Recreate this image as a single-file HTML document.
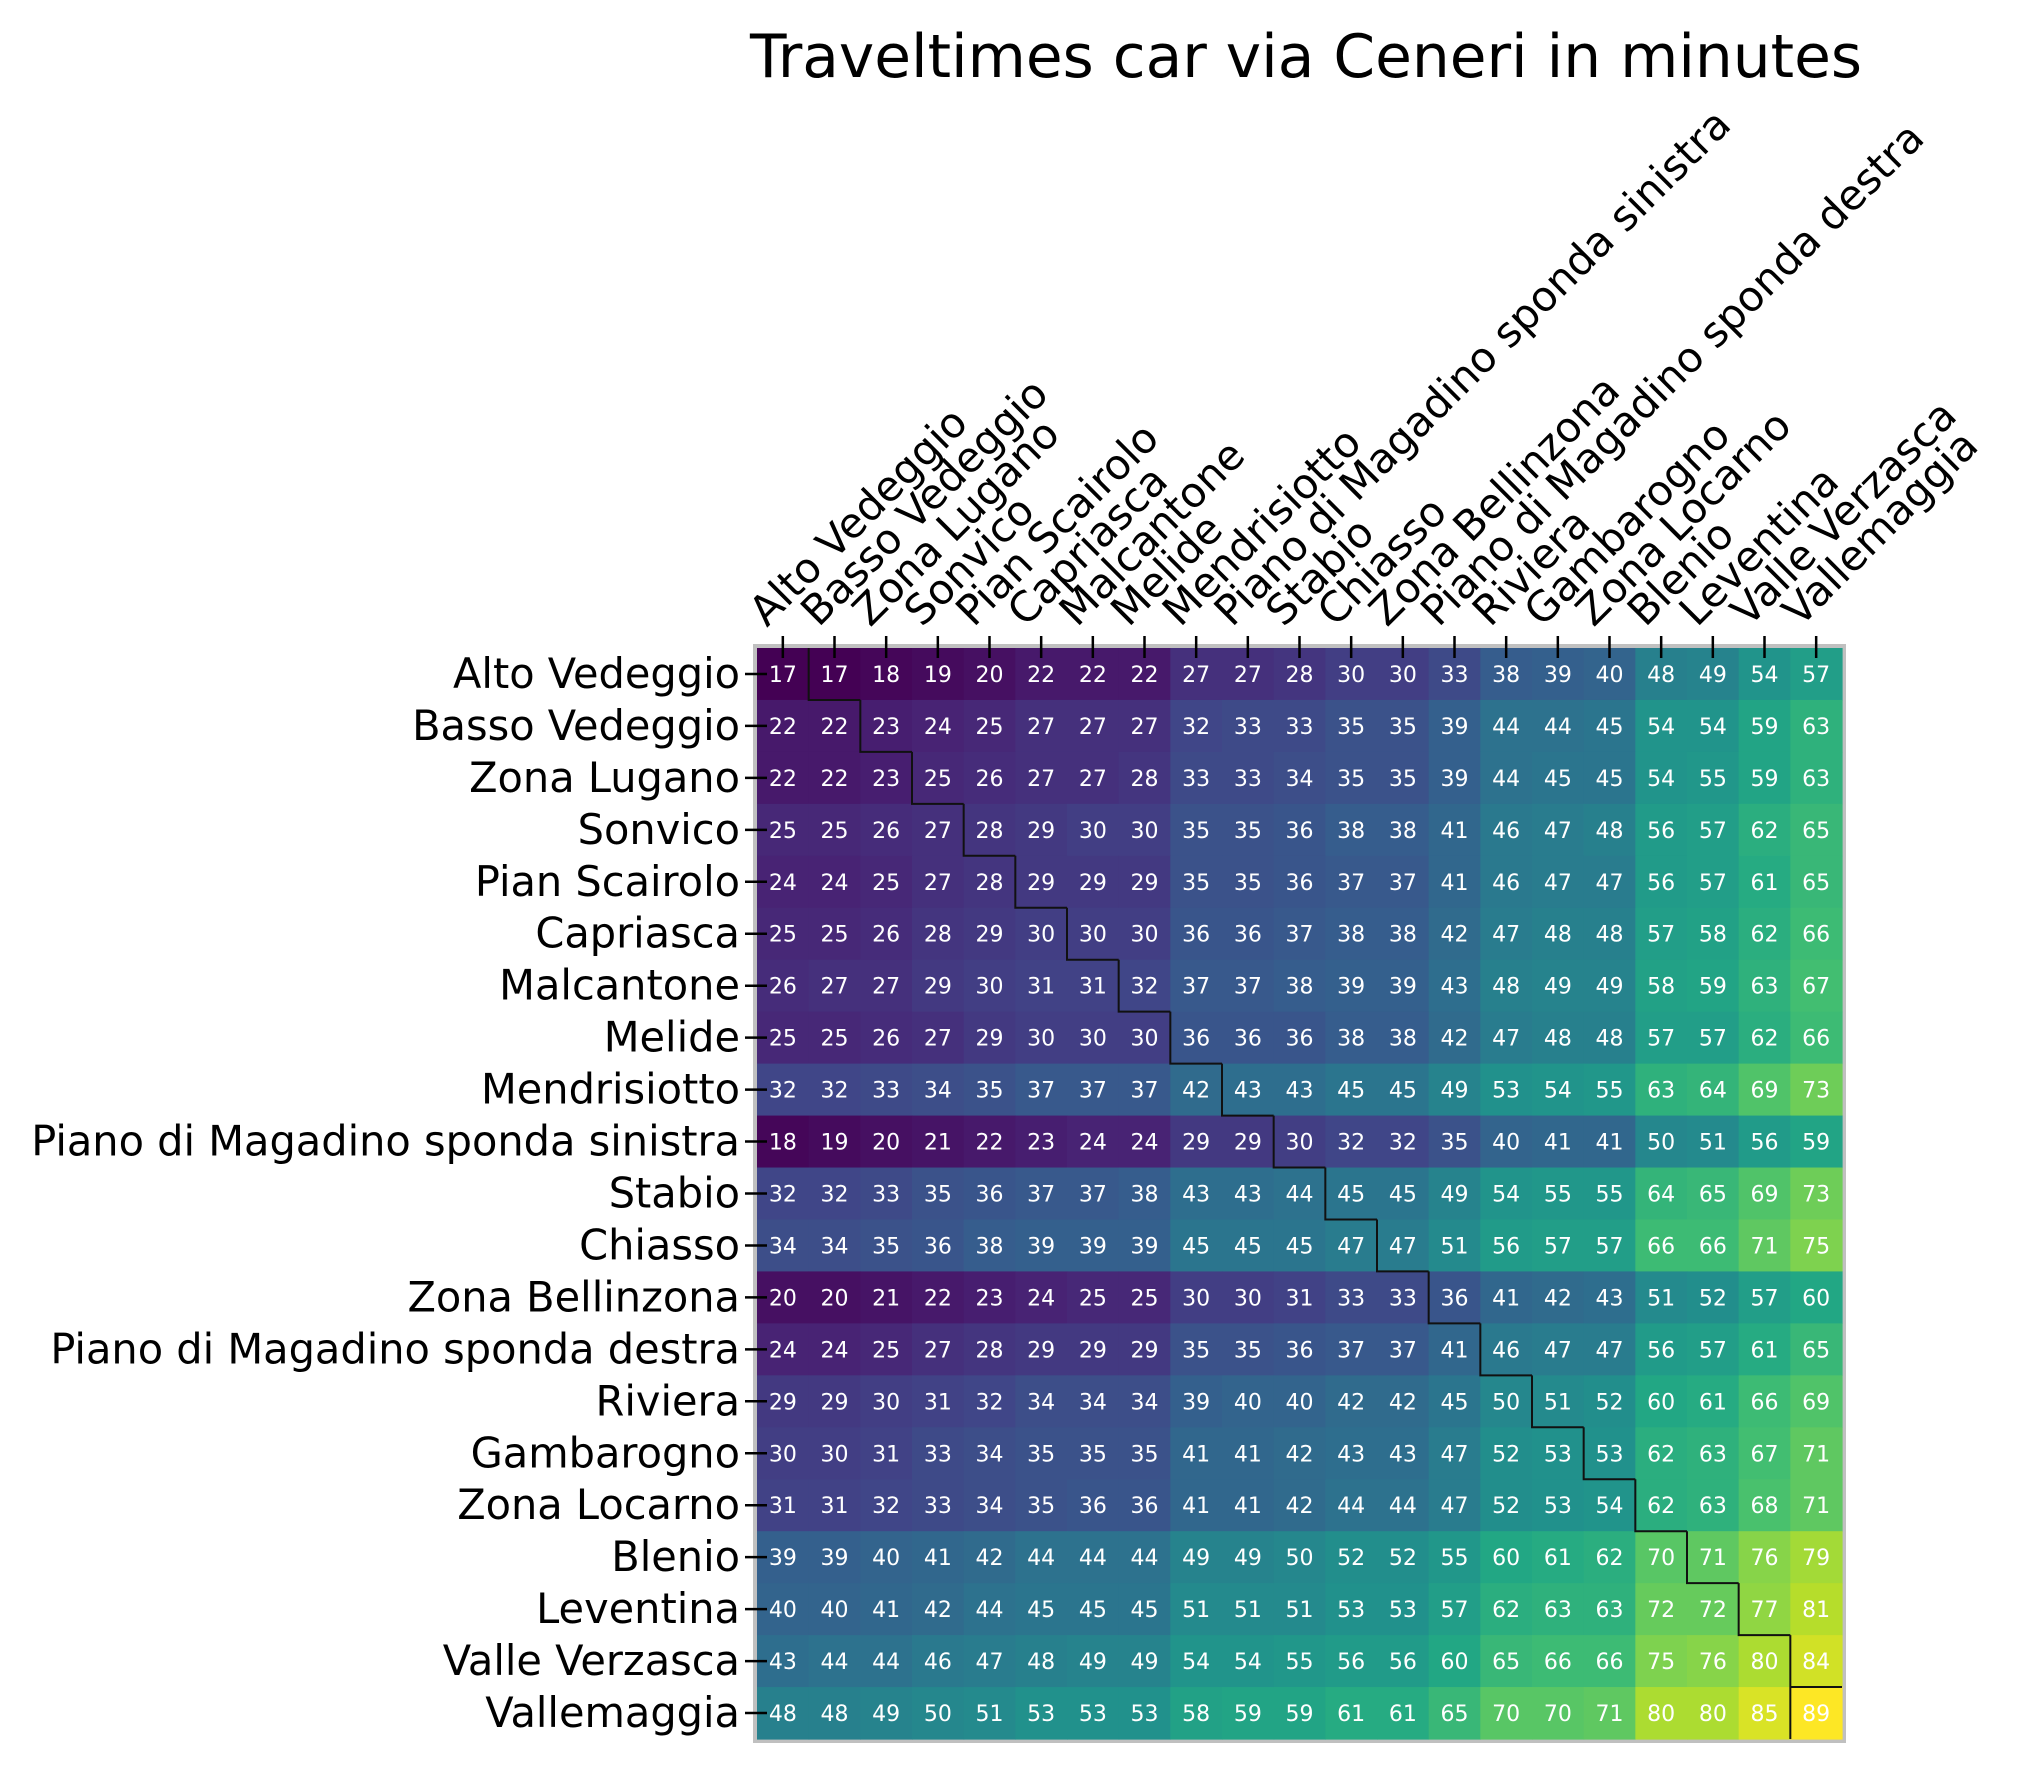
<!DOCTYPE html>
<html><head><meta charset="utf-8"><style>
html,body{margin:0;padding:0;background:#fff;}
svg{display:block;font-family:"DejaVu Sans","Liberation Sans",sans-serif;}
</style></head>
<body>
<svg id="chart" width="2033" height="1770" viewBox="0 0 2033 1770" xmlns="http://www.w3.org/2000/svg">
<text x="750" y="77" font-size="60" textLength="1112" lengthAdjust="spacingAndGlyphs">Traveltimes car via Ceneri in minutes</text>
<g id="cells"></g>
<g id="labels"></g>
</svg>
<script>
const zones = ["Alto Vedeggio","Basso Vedeggio","Zona Lugano","Sonvico","Pian Scairolo","Capriasca","Malcantone","Melide","Mendrisiotto","Piano di Magadino sponda sinistra","Stabio","Chiasso","Zona Bellinzona","Piano di Magadino sponda destra","Riviera","Gambarogno","Zona Locarno","Blenio","Leventina","Valle Verzasca","Vallemaggia"];
const row0 = [17,17,18,19,20,22,22,22,27,27,28,30,30,33,38,39,40,48,49,54,57];
const row1 = [22,22,23,24,25,27,27,27,32,33,33,35,35,39,44,44,45,54,54,59,63];
const row2 = [22,22,23,25,26,27,27,28,33,33,34,35,35,39,44,45,45,54,55,59,63];
const row3 = [25,25,26,27,28,29,30,30,35,35,36,38,38,41,46,47,48,56,57,62,65];
const row4 = [24,24,25,27,28,29,29,29,35,35,36,37,37,41,46,47,47,56,57,61,65];
const row5 = [25,25,26,28,29,30,30,30,36,36,37,38,38,42,47,48,48,57,58,62,66];
const row6 = [26,27,27,29,30,31,31,32,37,37,38,39,39,43,48,49,49,58,59,63,67];
const row7 = [25,25,26,27,29,30,30,30,36,36,36,38,38,42,47,48,48,57,57,62,66];
const row8 = [32,32,33,34,35,37,37,37,42,43,43,45,45,49,53,54,55,63,64,69,73];
const row9 = [18,19,20,21,22,23,24,24,29,29,30,32,32,35,40,41,41,50,51,56,59];
const row10 = [32,32,33,35,36,37,37,38,43,43,44,45,45,49,54,55,55,64,65,69,73];
const row11 = [34,34,35,36,38,39,39,39,45,45,45,47,47,51,56,57,57,66,66,71,75];
const row12 = [20,20,21,22,23,24,25,25,30,30,31,33,33,36,41,42,43,51,52,57,60];
const row13 = [24,24,25,27,28,29,29,29,35,35,36,37,37,41,46,47,47,56,57,61,65];
const row14 = [29,29,30,31,32,34,34,34,39,40,40,42,42,45,50,51,52,60,61,66,69];
const row15 = [30,30,31,33,34,35,35,35,41,41,42,43,43,47,52,53,53,62,63,67,71];
const row16 = [31,31,32,33,34,35,36,36,41,41,42,44,44,47,52,53,54,62,63,68,71];
const row17 = [39,39,40,41,42,44,44,44,49,49,50,52,52,55,60,61,62,70,71,76,79];
const row18 = [40,40,41,42,44,45,45,45,51,51,51,53,53,57,62,63,63,72,72,77,81];
const row19 = [43,44,44,46,47,48,49,49,54,54,55,56,56,60,65,66,66,75,76,80,84];
const row20 = [48,48,49,50,51,53,53,53,58,59,59,61,61,65,70,70,71,80,80,85,89];
const values = [row0,row1,row2,row3,row4,row5,row6,row7,row8,row9,row10,row11,row12,row13,row14,row15,row16,row17,row18,row19,row20];

const NS="http://www.w3.org/2000/svg";
const X0=757, Y0=648, X1=1842, Y1=1739;
const n=zones.length;
const cw=(X1-X0)/n, ch=(Y1-Y0)/n;
const xs=i=>X0+i*cw, ys=j=>Y0+j*ch;
let vmin=Infinity,vmax=-Infinity;
values.forEach(r=>r.forEach(v=>{vmin=Math.min(vmin,v);vmax=Math.max(vmax,v);}));
const vir=[[68,1,84],[72,36,117],[65,68,135],[53,95,141],[42,120,142],[33,145,140],[34,168,132],[68,191,112],[122,209,81],[189,223,38],[253,231,37]];
function color(v){
  let t=(v-vmin)/(vmax-vmin);t=Math.max(0,Math.min(1,t))*(vir.length-1);
  const k=Math.min(Math.floor(t),vir.length-2),f=t-k;
  const c=vir[k].map((a,i)=>Math.round(a+(vir[k+1][i]-a)*f));
  return `rgb(${c[0]},${c[1]},${c[2]})`;
}
function mk(tag,attrs,parent){const e=document.createElementNS(NS,tag);for(const k in attrs)e.setAttribute(k,attrs[k]);parent.appendChild(e);return e;}
const cells=document.getElementById('cells');
const labels=document.getElementById('labels');
mk('rect',{x:X0-2,y:Y0-2,width:X1-X0+4,height:Y1-Y0+4,fill:'none',stroke:'#c0c0c0','stroke-width':4},cells);
values.forEach((r,j)=>r.forEach((v,i)=>{
  const c=mk('rect',{x:xs(i),y:ys(j),width:cw+0.6,height:ch+0.6,fill:color(v)},cells);
  
  
  const t=mk('text',{x:xs(i)+cw/2,y:ys(j)+ch/2+8,'font-size':22,fill:'#fff','text-anchor':'middle'},cells);
  
  
  t.textContent=v;
}));
let d2=`M${xs(1)},${ys(0)}`;
for(let k=1;k<=20;k++){d2+=` L${xs(k)},${ys(k)} L${xs(k+1)},${ys(k)}`; if(k<20) d2+=` M${xs(k+1)},${ys(k)}`;}
d2+=` M${xs(20)},${ys(20)} L${xs(20)},${ys(21)}`;
const st=mk('path',{d:d2,fill:'none',stroke:'#111','stroke-width':2},cells);


zones.forEach((z,j)=>{
  const y=ys(j)+ch/2;
  const tk=mk('line',{x1:X0-12,x2:X0+10,y1:y,y2:y,stroke:'#000','stroke-width':2.5},labels);
  
  
  const t=mk('text',{x:740,y:y+14,'font-size':41.5,'text-anchor':'end'},labels);
  
  
  t.textContent=z;
});
zones.forEach((z,i)=>{
  const x=xs(i)+cw/2;
  const tk=mk('line',{x1:x,x2:x,y1:Y0-12,y2:Y0+10,stroke:'#000','stroke-width':2.5},labels);
  
  
  const t=mk('text',{x:x-16,y:Y0-20,'font-size':41.5,transform:`rotate(-45 ${x-16} ${Y0-20})`},labels);
  
  
  t.textContent=z;
});
</script>
</body></html>
